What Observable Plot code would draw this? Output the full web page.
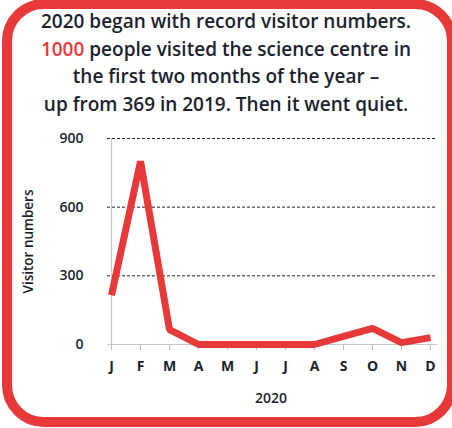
<!DOCTYPE html>
<html>
<head>
<meta charset="utf-8">
<script src="https://cdn.jsdelivr.net/npm/d3@7"></script>
<script src="https://cdn.jsdelivr.net/npm/@observablehq/plot@0.6"></script>
<style>
  html, body { margin: 0; padding: 0; background: #fff; }
  #wrap { position: relative; width: 452px; height: 428px; overflow: hidden; background: #fff; }
  #border { position: absolute; left: 2px; top: -1px; width: 455px; height: 428px; box-sizing: border-box;
    border: 10px solid #e8393a; border-radius: 42px; pointer-events: none; z-index: 5; }
  #title { position: absolute; top: 8px; left: 0; width: 452px; text-align: center;
    font-family: "Open Sans", sans-serif; font-weight: 600; font-size: 19px; line-height: 27.7px; color: #1b1f2e; }
  #title .hl { color: #e8393a; }
  #chart { position: absolute; top: 128px; left: 0; }
</style>
</head>
<body>
<div id="wrap">
  <div id="title">2020 began with record visitor numbers.<br><span class="hl">1000</span> people visited the science centre in<br>the first two months of the year –<br>up from 369 in 2019. Then it went quiet.</div>
  <div id="chart"></div>
  <div id="border"></div>
</div>
<script>
const monthKeys = ["Jan","Feb","Mar","Apr","May","Jun","Jul","Aug","Sep","Oct","Nov","Dec"];
const monthLabels = ["J","F","M","A","M","J","J","A","S","O","N","D"];
const visitors = [215, 800, 65, 0, 0, 0, 0, 0, 35, 70, 8, 30];
const yTicks = [0, 300, 600, 900];
const gridValues = [300, 600, 900];
const xTitle = "2020";
const yTitle = "Visitor numbers";

const data = monthKeys.map((m, i) => ({month: m, value: visitors[i]}));
const ink = "#1b1f2e";

const chart = Plot.plot({
  width: 452,
  height: 290,
  marginTop: 10,
  marginBottom: 74,
  marginLeft: 107,
  marginRight: 18,
  style: {fontFamily: "Open Sans, sans-serif", background: "transparent"},
  x: {type: "point", domain: monthKeys, padding: 0},
  y: {domain: [0, 900]},
  marks: [
    Plot.ruleY(gridValues, {stroke: "#222", strokeDasharray: "3,2", strokeWidth: 1, insetRight: -3}),
    Plot.ruleX([monthKeys[0]], {y1: 0, y2: 900, stroke: "#c8c8c8", strokeWidth: 1.2}),
    Plot.ruleY([0], {stroke: "#c8c8c8", strokeWidth: 1.2, insetRight: -3}),
    Plot.axisX({
      tickSize: 6, tickPadding: 11, stroke: "#bdbdbd",
      tickFormat: (d) => monthLabels[monthKeys.indexOf(d)],
      fontSize: 14, fontWeight: "bold", fill: ink, label: null
    }),
    Plot.text([xTitle], {frameAnchor: "bottom", dy: 58, fontSize: 14, fontWeight: 600, fill: ink}),
    Plot.axisY(yTicks, {
      tickSize: 0, tickPadding: 24, fontSize: 14, fontWeight: 600, fill: ink, label: null
    }),
    Plot.text([yTitle], {frameAnchor: "left", textAnchor: "middle", rotate: -90, dx: -79, fontSize: 13.5, fontWeight: 600, fill: ink}),
    Plot.line(data, {x: "month", y: "value", stroke: "#e8393a", strokeWidth: 7,
      strokeLinejoin: "miter", strokeLinecap: "butt"})
  ]
});
document.getElementById("chart").appendChild(chart);
</script>
</body>
</html>
